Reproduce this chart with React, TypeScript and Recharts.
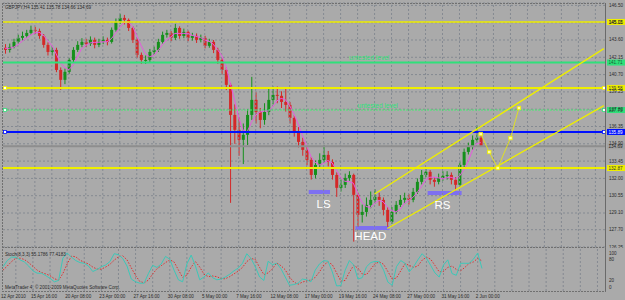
import React from "react";
import {
  ComposedChart,
  Bar,
  Line,
  XAxis,
  YAxis,
  CartesianGrid,
  ReferenceLine,
  ReferenceArea,
  ReferenceDot,
} from "recharts";

// ---------- data (GBPJPY, H4, candles grouped in pairs) ----------
const firstOpen = 142.95;
const closes = [
  142.77, 143.02, 143.44, 143.78, 143.94, 144.19, 144.45, 144.36, 143.94, 143.19,
  142.6, 142.77, 141.09, 140.26, 140.93, 141.93, 142.77, 143.19, 143.44, 143.27,
  143.61, 143.19, 143.44, 143.61, 143.44, 144.45, 145.12, 145.45, 145.28, 144.61,
  143.61, 142.35, 141.93, 141.93, 142.6, 142.77, 143.44, 144.03, 144.19, 143.78,
  144.61, 143.94, 144.28, 143.78, 143.94, 143.61, 143.78, 143.11, 143.44, 142.77,
  141.93, 141.09, 139.84, 137.32, 136.07, 135.23, 135.65, 137.32, 138.58, 137.57,
  136.9, 137.57, 138.58, 139.0, 138.92, 138.41, 138.16, 137.07, 135.9, 135.06,
  134.39, 133.55, 132.29, 133.13, 133.55, 133.97, 133.38, 132.29, 131.21, 131.46,
  132.04, 132.29, 130.62, 128.94, 129.19, 129.78, 130.2, 130.45, 130.2, 129.36,
  128.36, 129.19, 129.78, 130.2, 130.37, 130.2, 130.87, 131.71, 132.29, 132.55,
  131.88, 131.71, 132.04, 132.21, 132.29, 131.88, 131.46, 133.13, 134.22, 134.64,
  135.23, 135.41, 134.69,
];
const highs = [
  143.25, 143.3, 143.7, 144.05, 144.3, 144.45, 144.8, 144.7, 144.55, 144.1,
  143.4, 143.05, 142.95, 141.3, 141.2, 142.1, 143.0, 143.5, 143.75, 143.7,
  143.9, 143.8, 143.7, 143.9, 143.8, 144.65, 145.4, 145.8, 145.7, 145.4,
  144.75, 143.75, 142.55, 142.3, 142.85, 143.05, 143.7, 144.3, 144.45, 144.35,
  144.95, 144.75, 144.55, 144.4, 144.2, 144.15, 144.05, 143.95, 143.7, 143.6,
  142.95, 142.1, 141.3, 140.0, 138.2, 137.1, 136.6, 137.8, 140.51, 139.2,
  137.9, 138.3, 139.6, 139.7, 139.7, 139.3, 139.6, 138.4, 137.3, 136.3,
  135.4, 134.7, 133.8, 133.5, 134.1, 134.8, 134.3, 133.6, 132.5, 131.9,
  132.4, 132.6, 132.4, 130.8, 129.8, 130.4, 130.9, 131.1, 130.8, 130.4,
  129.6, 129.6, 130.1, 130.6, 130.8, 130.7, 131.2, 132.0, 132.7, 132.9,
  132.7, 132.1, 132.4, 132.6, 132.6, 132.5, 132.1, 133.4, 134.5, 135.0,
  135.6, 136.45, 135.78,
];
const lows = [
  142.45, 142.55, 142.9, 143.3, 143.55, 143.8, 144.05, 144.1, 143.7, 142.95,
  142.3, 142.3, 140.9, 139.42, 139.9, 140.75, 141.75, 142.6, 143.0, 143.0,
  143.1, 142.9, 143.0, 143.25, 143.15, 143.3, 144.3, 144.95, 144.9, 144.35,
  143.35, 142.1, 141.6, 141.6, 141.75, 142.35, 142.6, 143.3, 143.8, 143.5,
  143.6, 143.7, 143.75, 143.5, 143.55, 143.35, 143.4, 142.9, 142.95, 142.5,
  141.6, 140.7, 139.4, 129.95, 134.9, 133.9, 133.2, 134.8, 136.9, 136.6,
  136.2, 136.5, 137.3, 138.2, 138.3, 137.9, 137.6, 136.6, 135.5, 134.6,
  133.9, 133.1, 131.9, 132.0, 132.8, 133.3, 133.0, 131.9, 130.45, 130.9,
  131.2, 131.8, 126.7, 127.95, 128.3, 128.8, 129.5, 129.9, 129.7, 128.9,
  127.95, 128.2, 129.0, 129.6, 129.9, 129.8, 130.0, 130.7, 131.5, 132.1,
  131.5, 131.3, 131.5, 131.8, 131.9, 131.5, 131.0, 131.3, 132.9, 134.0,
  134.4, 135.0, 134.66,
];
const maValues = [
  142.9, 142.9, 143.0, 143.2, 143.5, 143.75, 144.0, 144.2, 144.25, 144.0,
  143.55, 143.15, 142.45, 141.7, 141.3, 141.1, 141.5, 142.2, 142.85, 143.15,
  143.35, 143.4, 143.4, 143.45, 143.45, 143.7, 144.15, 144.65, 145.05, 145.1,
  144.75, 143.95, 143.15, 142.45, 142.2, 142.3, 142.7, 143.2, 143.6, 143.85,
  144.15, 144.15, 144.15, 144.15, 144.0, 143.9, 143.8, 143.6, 143.5, 143.25,
  142.8, 142.3, 141.4, 140.0, 138.6, 137.1, 136.05, 135.9, 136.7, 137.3,
  137.55, 137.65, 137.65, 138.0, 138.5, 138.7, 138.6, 138.1, 137.4, 136.55,
  135.6, 134.75, 133.85, 133.35, 133.15, 133.25, 133.5, 133.3, 132.7, 132.1,
  131.75, 131.75, 131.6, 130.75, 130.0, 129.65, 129.55, 129.9, 130.15, 130.05,
  129.6, 129.3, 129.2, 129.4, 129.9, 130.15, 130.4, 130.8, 131.3, 131.85,
  132.1, 132.1, 132.05, 131.95, 132.05, 132.1, 131.95, 132.2, 132.7, 133.4,
  134.3, 134.9, 135.0,
];
const stochK = [
  60, 78, 88, 88, 80, 74, 62, 48, 41, 41,
  34, 26, 16, 20, 85, 100, 88, 78, 72, 70,
  62, 46, 52, 60, 65, 75, 98, 95, 84, 62,
  24, 16, 12, 12, 40, 64, 58, 68, 90, 82,
  50, 22, 16, 68, 94, 62, 22, 30, 42, 28,
  22, 24, 30, 38, 48, 56, 70, 98, 84, 60,
  30, 20, 76, 66, 70, 54, 30, 6, 8, 12,
  24, 22, 16, 50, 68, 78, 76, 45, 4, 5,
  50, 78, 65, 24, 28, 60, 72, 76, 74, 50,
  15, 6, 60, 78, 70, 45, 60, 80, 98, 85,
  64, 42, 30, 65, 80, 40, 35, 70, 70, 70,
  82, 100, 55,
];
const stochD = [
  50, 62, 75, 85, 85, 81, 72, 61, 50, 43,
  39, 34, 25, 21, 40, 68, 91, 89, 79, 73,
  68, 59, 53, 53, 59, 67, 79, 89, 92, 80,
  57, 34, 17, 13, 21, 39, 54, 63, 72, 80,
  74, 51, 29, 35, 59, 75, 59, 38, 31, 33,
  31, 25, 25, 31, 39, 47, 58, 75, 84, 81,
  58, 37, 42, 54, 71, 63, 51, 30, 15, 9,
  15, 19, 21, 29, 45, 65, 74, 66, 42, 18,
  20, 44, 64, 56, 39, 37, 53, 69, 74, 67,
  46, 24, 27, 48, 69, 64, 58, 62, 79, 88,
  82, 64, 45, 46, 58, 62, 52, 48, 58, 70,
  74, 84, 77,
];

const totalSlots = 142;
const gridSlots = [3, 7, 11, 15, 19, 23, 27, 31, 35, 39, 43, 47, 51, 55, 59, 63, 67, 71, 75, 79, 83, 87, 91, 95, 99, 103, 107, 111, 115, 119, 123, 127, 131, 135, 139];
const dateTickSlots = [0, 7, 15, 23, 31, 39, 47, 55, 63, 71, 79, 87, 95, 103, 111];
const dateLabels = [
  "12 Apr 2010", "15 Apr 16:00", "20 Apr 08:00", "23 Apr 00:00", "27 Apr 16:00",
  "30 Apr 08:00", "5 May 00:00", "7 May 16:00", "12 May 08:00", "17 May 00:00",
  "19 May 16:00", "24 May 08:00", "27 May 00:00", "31 May 16:00", "2 Jun 00:00",
];
const priceTickLabels = [
  "146.50", "145.05", "143.60", "142.15", "140.70", "139.25", "137.80", "136.35",
  "134.90", "133.45", "132.00", "130.55", "129.10", "127.70", "126.25",
];
const priceTicks = priceTickLabels.map((s) => parseFloat(s));
const stochTicks = [0, 20, 80, 100];

// horizontal levels drawn on the chart
const levelPrices = [145.11, 141.71, 139.58, 137.73, 135.89, 134.69, 132.87];
const levelStyles = [
  { color: "#eeee00", width: 1.5, dash: undefined, tagBg: "#eeee00", tagFg: "#333", square: undefined },
  { color: "#2fe07a", width: 2, dash: undefined, tagBg: "#2fe07a", tagFg: "#1b5a35", square: undefined },
  { color: "#eeee00", width: 2, dash: undefined, tagBg: "#eeee00", tagFg: "#333", square: "#eeee00" },
  { color: "#44f070", width: 1, dash: "2 1", tagBg: "#2fe07a", tagFg: "#1b5a35", square: "#2fe07a" },
  { color: "#0010ff", width: 2, dash: undefined, tagBg: "#0010ff", tagFg: "#ffffff", square: "#0010ff" },
  { color: "#8e8e8e", width: 2, dash: undefined, tagBg: "#a2a2a2", tagFg: "#222", square: undefined },
  { color: "#eeee00", width: 2, dash: undefined, tagBg: "#eeee00", tagFg: "#333", square: undefined },
];

// trend channel and projected path [slot, price]
const channelUpper: [number, number][] = [[87, 130.69], [141, 142.88]];
const channelLower: [number, number][] = [[90, 127.8], [141, 138.1]];
const projectionPath: [number, number][] = [[112, 135.72], [114, 134.21], [116, 132.87], [119, 135.38], [121, 137.9]];

// head & shoulders zones
const zoneNames = ["LS", "HEAD", "RS"];
const zoneFrom = [72, 83, 100];
const zoneTo = [76, 90, 107];
const zoneLow = [130.69, 127.67, 130.61];
const zoneHigh = [131.03, 128.01, 130.94];
const zoneLabelSlot = [75, 86, 103];
const zoneLabelPrice = [129.85, 127.17, 129.77];

const noteTexts = ["untested level", "untested level"];
const noteSlots = [81, 83];
const notePrices = [142.17, 138.15];

const headerText = "GBPJPY,H4 135.41 135.78 134.66 134.69";
const stochText = "Stoch(8,3,3) 55.1786 77.4183";
const footerText = "MetaTrader 4, \u00a9 2001-2009 MetaQuotes Software Corp.";

// ---------- table for recharts ----------
const lookup = (pts: [number, number][], i: number) => {
  const f = pts.find((p) => p[0] === i);
  return f ? f[1] : null;
};
const rows = Array.from({ length: totalSlots }, (_, i) => {
  const has = i < closes.length;
  return {
    i,
    open: has ? (i === 0 ? firstOpen : closes[i - 1]) : null,
    close: has ? closes[i] : null,
    high: has ? highs[i] : null,
    low: has ? lows[i] : null,
    range: has ? [lows[i], highs[i]] : null,
    ma: has ? maValues[i] : null,
    k: has ? stochK[i] : null,
    d: has ? stochD[i] : null,
    chU: lookup(channelUpper, i),
    chL: lookup(channelLower, i),
    proj: lookup(projectionPath, i),
  };
});

const FONT = "'Liberation Sans', Arial, sans-serif";
const TEXT = "#2a2a2a";
const GRID = "#858a92";
const YELLOW = "#eeee00";

const Candle = (props: any) => {
  const { x, y, width, height, payload } = props;
  if (!payload || payload.close == null || y == null || height == null) return <g />;
  const { open, close, high, low } = payload;
  const span = high - low || 1;
  const cx = x + width / 2;
  const yO = y + ((high - open) / span) * height;
  const yC = y + ((high - close) / span) * height;
  const bull = close >= open;
  const color = bull ? "#15901c" : "#d42828";
  const top = Math.min(yO, yC);
  const bodyH = Math.max(1, Math.abs(yC - yO));
  return (
    <g>
      <line x1={cx} x2={cx} y1={y} y2={y + height} stroke={color} strokeWidth={1} />
      <rect x={cx - 1.5} y={top} width={3} height={bodyH} fill={color} />
    </g>
  );
};

const LevelTag = (props: any) => {
  const { viewBox, text, bg, fg, square } = props;
  if (!viewBox) return null;
  const { x, y, width } = viewBox;
  const right = x + width;
  return (
    <g>
      {square && <rect x={x + 0.5} y={y - 1.5} width={3} height={3} fill="#ffffff" stroke={square} strokeWidth={0.8} />}
      {square && <rect x={right - 3.5} y={y - 1.5} width={3} height={3} fill="#ffffff" stroke={square} strokeWidth={0.8} />}
      <rect x={right + 1} y={y - 3} width={19} height={6} fill={bg} />
      <text x={right + 2.5} y={y + 0.3} fontSize={4.6} fill={fg} fontFamily={FONT} dominantBaseline="central">
        {text}
      </text>
    </g>
  );
};

const NoteLabel = (props: any) => {
  const { viewBox, text, color, size, anchor } = props;
  if (!viewBox) return null;
  const cx = viewBox.x + viewBox.width / 2;
  const cy = viewBox.y + viewBox.height / 2;
  return (
    <text x={cx} y={cy} fill={color} fontSize={size} textAnchor={anchor} fontFamily={FONT} dominantBaseline="central">
      {text}
    </text>
  );
};

const PriceTick = (props: any) => {
  const { x, y, payload } = props;
  const idx = priceTicks.indexOf(payload.value);
  return (
    <text x={x + 3} y={y} fontSize={4.6} fill={TEXT} fontFamily={FONT} dominantBaseline="central">
      {idx >= 0 ? priceTickLabels[idx] : payload.value}
    </text>
  );
};

const StochTick = (props: any) => {
  const { x, y, payload } = props;
  return (
    <text x={x + 3} y={y} fontSize={4.6} fill={TEXT} fontFamily={FONT} dominantBaseline="central">
      {String(payload.value)}
    </text>
  );
};

const DateTick = (props: any) => {
  const { x, y, payload } = props;
  const idx = dateTickSlots.indexOf(payload.value);
  return (
    <text x={x - 2} y={y + 5} fontSize={4.6} fill={TEXT} fontFamily={FONT} dominantBaseline="central">
      {idx >= 0 ? dateLabels[idx] : ""}
    </text>
  );
};

const ProjDot = (props: any) => {
  const { cx, cy, index } = props;
  if (cx == null || cy == null || props.value == null) return <g key={`pd${index}`} />;
  return <rect key={`pd${index}`} x={cx - 1.7} y={cy - 1.7} width={3.4} height={3.4} fill="#ffffa8" stroke={YELLOW} strokeWidth={0.8} />;
};

export default function App() {
  return (
    <div
      style={{
        position: "absolute",
        left: 0,
        top: 0,
        width: 625,
        height: 300,
        background: "#aaaaaa",
        overflow: "hidden",
      }}
    >
      <div style={{ position: "absolute", left: 0, top: 0 }}>
        <ComposedChart width={625} height={248} data={rows} margin={{ top: 3, right: 0, bottom: 0, left: 3 }}>
          <CartesianGrid vertical={false} stroke={GRID} strokeDasharray="2 2" />
          <XAxis dataKey="i" type="category" height={1} tick={false} axisLine={false} tickLine={false} />
          <YAxis
            orientation="right"
            width={19}
            type="number"
            domain={[126.25, 146.7]}
            allowDataOverflow
            ticks={priceTicks}
            interval={0}
            tickSize={0}
            tickMargin={0}
            axisLine={false}
            tickLine={false}
            tick={<PriceTick />}
          />
          {gridSlots.map((s) => (
            <ReferenceLine key={`vg${s}`} x={s} stroke={GRID} strokeDasharray="2 2" />
          ))}
          {zoneNames.map((n, k) => (
            <ReferenceArea
              key={`z${n}`}
              x1={zoneFrom[k]}
              x2={zoneTo[k]}
              y1={zoneLow[k]}
              y2={zoneHigh[k]}
              fill="#7e70f0"
              fillOpacity={1}
              stroke="none"
            />
          ))}
          <Bar dataKey="range" barSize={3} shape={<Candle />} isAnimationActive={false} />
          <Line type="linear" dataKey="ma" stroke="#e858e0" strokeWidth={1} dot={false} isAnimationActive={false} />
          {levelPrices.map((p, k) => (
            <ReferenceLine
              key={`lv${k}`}
              y={p}
              stroke={levelStyles[k].color}
              strokeWidth={levelStyles[k].width}
              strokeDasharray={levelStyles[k].dash}
              label={
                <LevelTag
                  text={p.toFixed(2)}
                  bg={levelStyles[k].tagBg}
                  fg={levelStyles[k].tagFg}
                  square={levelStyles[k].square}
                />
              }
            />
          ))}
          <Line type="linear" dataKey="chU" stroke={YELLOW} strokeWidth={1.3} dot={false} connectNulls isAnimationActive={false} />
          <Line type="linear" dataKey="chL" stroke={YELLOW} strokeWidth={1.3} dot={false} connectNulls isAnimationActive={false} />
          <Line type="linear" dataKey="proj" stroke={YELLOW} strokeWidth={0.8} dot={<ProjDot />} connectNulls isAnimationActive={false} />
          {noteTexts.map((t, k) => (
            <ReferenceDot
              key={`nt${k}`}
              x={noteSlots[k]}
              y={notePrices[k]}
              r={1}
              fill="none"
              stroke="none"
              label={<NoteLabel text={t} color="#2ee27a" size={6.5} anchor="start" />}
            />
          ))}
          {zoneNames.map((n, k) => (
            <ReferenceDot
              key={`zl${n}`}
              x={zoneLabelSlot[k]}
              y={zoneLabelPrice[k]}
              r={1}
              fill="none"
              stroke="none"
              label={<NoteLabel text={n} color="#ffffff" size={11.5} anchor="middle" />}
            />
          ))}
        </ComposedChart>
      </div>
      <div style={{ position: "absolute", left: 0, top: 247 }}>
        <ComposedChart width={625} height={53} data={rows} margin={{ top: 1, right: 0, bottom: 0, left: 3 }}>
          <XAxis
            dataKey="i"
            type="category"
            height={9}
            ticks={dateTickSlots}
            interval={0}
            tickSize={0}
            tickMargin={0}
            axisLine={false}
            tickLine={false}
            tick={<DateTick />}
          />
          <YAxis
            orientation="right"
            width={19}
            type="number"
            domain={[-10.8, 114.6]}
            allowDataOverflow
            ticks={stochTicks}
            interval={0}
            tickSize={0}
            tickMargin={0}
            axisLine={false}
            tickLine={false}
            tick={<StochTick />}
          />
          {gridSlots.map((s) => (
            <ReferenceLine key={`pg${s}`} x={s} stroke={GRID} strokeDasharray="2 2" />
          ))}
          <Line type="linear" dataKey="d" stroke="#e03030" strokeWidth={1} strokeDasharray="1.5 1.5" dot={false} isAnimationActive={false} />
          <Line type="linear" dataKey="k" stroke="#3cc8b8" strokeWidth={1} dot={false} isAnimationActive={false} />
        </ComposedChart>
      </div>
      <svg width={625} height={300} style={{ position: "absolute", left: 0, top: 0, pointerEvents: "none" }}>
        <line x1={2} x2={606} y1={3.5} y2={3.5} stroke="#707070" strokeDasharray="2 1" />
        <line x1={2.5} x2={2.5} y1={3} y2={291} stroke="#707070" strokeDasharray="2 1" />
        <line x1={605.5} x2={605.5} y1={3} y2={291.5} stroke="#6a6a6a" />
        <line x1={2} x2={606} y1={247.5} y2={247.5} stroke="#707070" strokeDasharray="2 1" />
        <line x1={2} x2={606} y1={291.5} y2={291.5} stroke="#707070" strokeDasharray="2 1" />
        <text x={5} y={7.5} fontSize={4.6} fill={TEXT} fontFamily={FONT} dominantBaseline="central">{headerText}</text>
        <text x={5} y={254} fontSize={4.6} fill={TEXT} fontFamily={FONT} dominantBaseline="central">{stochText}</text>
        <text x={5} y={287} fontSize={4.6} fill={TEXT} fontFamily={FONT} dominantBaseline="central">{footerText}</text>
      </svg>
    </div>
  );
}
